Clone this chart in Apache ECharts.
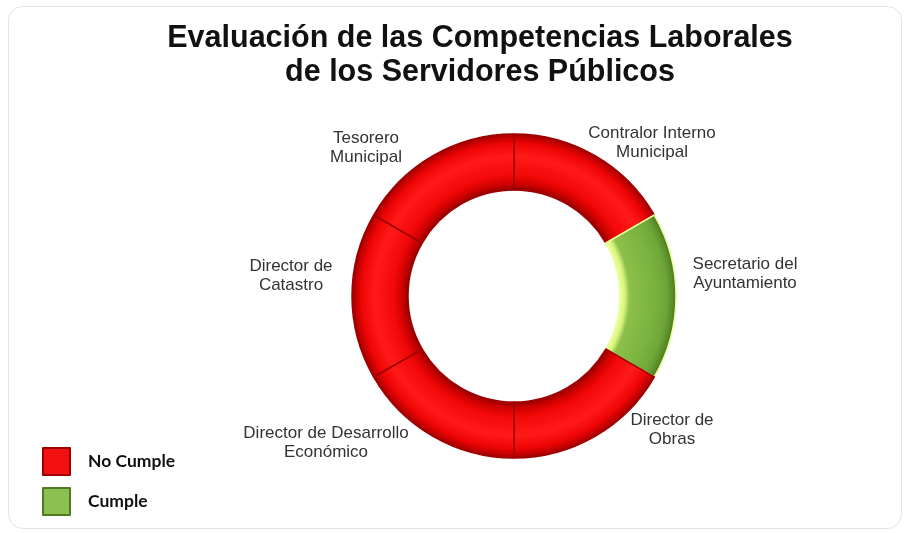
<!DOCTYPE html>
<html>
<head>
<meta charset="utf-8">
<script src="https://cdn.jsdelivr.net/npm/echarts@6/dist/echarts.min.js"></script>
<style>
html,body{margin:0;padding:0;background:#fff;}
#c{width:904px;height:533px;}
</style>
</head>
<body>
<div id="c"></div>
<script>
// Data
const puestos = ['Contralor Interno\nMunicipal', 'Secretario del\nAyuntamiento', 'Director de\nObras', 'Director de Desarrollo\nEconómico', 'Director de\nCatastro', 'Tesorero\nMunicipal'];
const peso = [1, 1, 1, 1, 1, 1];
const estado = ['No Cumple', 'Cumple', 'No Cumple', 'No Cumple', 'No Cumple', 'No Cumple'];
const categoriasLeyenda = ['No Cumple', 'Cumple'];

// Styles
const CX = 514, CY = 296, R_IN = 106, R_OUT = 162;
const k = R_IN / R_OUT;
function ringGrad(stops) {
  return { type: 'radial', x: CX, y: CY, r: R_OUT, global: true,
    colorStops: stops.map(s => ({ offset: s[0], color: s[1] })) };
}
const redGrad = ringGrad([[0, '#a00000'], [k, '#900000'], [k + 0.035, '#cc0000'], [k + 0.09, '#f20808'], [0.86, '#ff1a1a'], [0.94, '#ee0505'], [0.98, '#c00000'], [1, '#960000']]);
const greenGrad = ringGrad([[0, '#eaff9a'], [k, '#eeff9c'], [k + 0.03, '#d6f47c'], [k + 0.06, '#8cc04a'], [0.86, '#7ab340'], [0.94, '#6ea638'], [0.98, '#5a8c2a'], [1, '#4a7420']]);
const colorByStatus = { 'No Cumple': redGrad, 'Cumple': greenGrad };
const borderByStatus = { 'No Cumple': '#a00000', 'Cumple': '#e8ff9a' };
const legendColor = { 'No Cumple': '#f21010', 'Cumple': '#8cc152' };
const legendBorder = { 'No Cumple': '#9a0000', 'Cumple': '#4f7a22' };

// label centres (text placement only)
const labelPos = [[652, 143], [745, 274], [672, 430], [326, 443], [291, 276], [366, 148]];

const chart = echarts.init(document.getElementById('c'));
chart.setOption({
  backgroundColor: '#fff',
  graphic: [{
    type: 'rect', shape: { x: 8.5, y: 6.5, width: 893, height: 522, r: 14 },
    style: { fill: 'none', stroke: '#e4e4e4', lineWidth: 1 }, silent: true, z: -1
  }],
  title: {
    text: 'Evaluación de las Competencias Laborales\nde los Servidores Públicos',
    left: 475, top: 17, textAlign: 'center',
    textStyle: { fontFamily: 'Liberation Sans, Arial', fontWeight: 'bold', fontSize: 30.5, lineHeight: 34, color: '#111' }
  },
  legend: {
    data: categoriasLeyenda,
    orient: 'vertical', left: 42, top: 447, padding: 0,
    itemWidth: 27, itemHeight: 27, itemGap: 11,
    icon: 'rect',
    textStyle: { fontFamily: 'Lato', fontWeight: 'bold', fontSize: 17.5, color: '#111', padding: [0, 0, 0, 13] }
  },
  series: [
    {
      type: 'pie',
      center: [CX, CY],
      radius: [R_IN, R_OUT],
      startAngle: 90,
      clockwise: true,
      silent: true,
      data: puestos.map((p, i) => ({
        name: p, value: peso[i],
        itemStyle: { color: colorByStatus[estado[i]], borderColor: borderByStatus[estado[i]], borderWidth: 1.5 }
      })),
      label: {
        show: true, position: 'outside', formatter: '{b}',
        fontFamily: 'Liberation Sans, Arial', fontSize: 17, lineHeight: 19, color: '#333', align: 'center'
      },
      labelLine: { show: false },
      labelLayout: function (params) {
        const p = labelPos[params.dataIndex];
        return { x: p[0], y: p[1], align: 'center', verticalAlign: 'middle' };
      }
    },
    {
      // legend provider only
      type: 'pie', radius: [0, 0], center: [CX, CY], silent: true,
      label: { show: false }, labelLine: { show: false },
      data: categoriasLeyenda.map(c => ({
        name: c, value: 0,
        itemStyle: { color: legendColor[c], borderColor: legendBorder[c], borderWidth: 2 }
      }))
    }
  ]
});
</script>
</body>
</html>
